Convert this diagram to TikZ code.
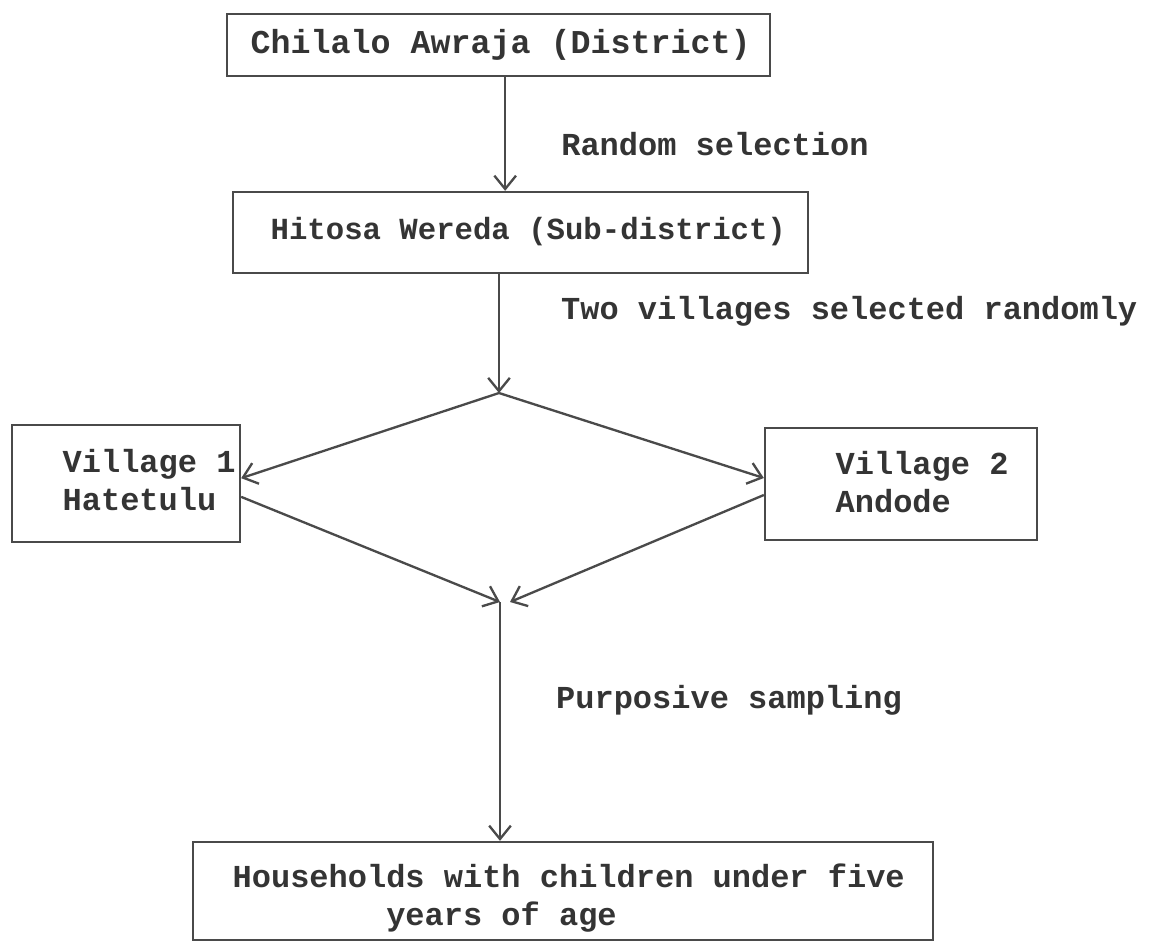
\documentclass[tikz,border=0pt]{standalone}
\usepackage{fontspec}
\newfontfamily\typewr{Liberation Mono}
\usepackage{tikz}
\usetikzlibrary{arrows.meta}
\definecolor{ink}{HTML}{4A4A4A}

\begin{document}
\begin{tikzpicture}[x=0.3pt,y=-0.3pt,
  box/.style={draw=ink, line width=0.7pt, inner sep=0pt},
  txt/.style={text=ink!70!black, font=\typewr\bfseries\fontsize{9.6}{11.5}\selectfont, inner sep=0pt, anchor=west, align=left},
  link/.style={draw=ink, line width=0.7pt, -{Straight Barb[length=4pt,width=6.5pt]}}]
\useasboundingbox (0,0) rectangle (1155,951);
                      \node[box, minimum width=162.9pt, minimum height=18.6pt] (chilalo) at (498.5,45) {};
                      \node[txt, font=\typewr\bfseries\fontsize{10}{12}\selectfont] (chilalo-txt) at (250,45) {Chilalo Awraja (District)};
                      \node[box, minimum width=172.5pt, minimum height=24.3pt] (hitosa) at (520.5,232.5) {};
                      \node[txt, font=\typewr\bfseries\fontsize{9.2}{11}\selectfont] (hitosa-txt) at (270,232) {Hitosa Wereda (Sub-district)};
                      \node[box, minimum width=68.4pt, minimum height=35.1pt] (village1) at (126,483.5) {};
                      \node[txt] (village1-txt) at (62,480) {Village 1\\Hatetulu};
                      \node[box, minimum width=81.6pt, minimum height=33.6pt] (village2) at (901,484) {};
                      \node[txt] (village2-txt) at (835,482) {Village 2\\Andode};
                      \node[box, minimum width=222pt, minimum height=29.4pt] (households) at (563,891) {};
                      \node[txt] (households-txt) at (232,898) {Households with children under five\\\hspace*{4.8em}years of age};
                      \coordinate (split) at (499,393);
                      \coordinate (merge) at (500,602);
                      \draw[link] ([xshift=2pt]chilalo.south) -- ([xshift=2pt]chilalo.south |- hitosa.north) node[txt, pos=0.59, right=16.5pt] {Random selection};
                      \draw[link] (hitosa.south -| split) -- (split) node[txt, pos=0.31, right=18.3pt] {Two villages selected randomly};
                      \draw[link] (split) -- ([yshift=1.6pt]village1.east);
                      \draw[link] (split) -- ([yshift=1.8pt]village2.west);
                      \draw[link] ([yshift=-4pt]village1.east) -- (merge);
                      \draw[link] ([yshift=-3.3pt]village2.west) -- ([xshift=3pt]merge);
                      \draw[link] (merge) -- (merge |- households.north) node[txt, pos=0.41, right=16.5pt] {Purposive sampling};
                  \end{tikzpicture}
\end{document}
